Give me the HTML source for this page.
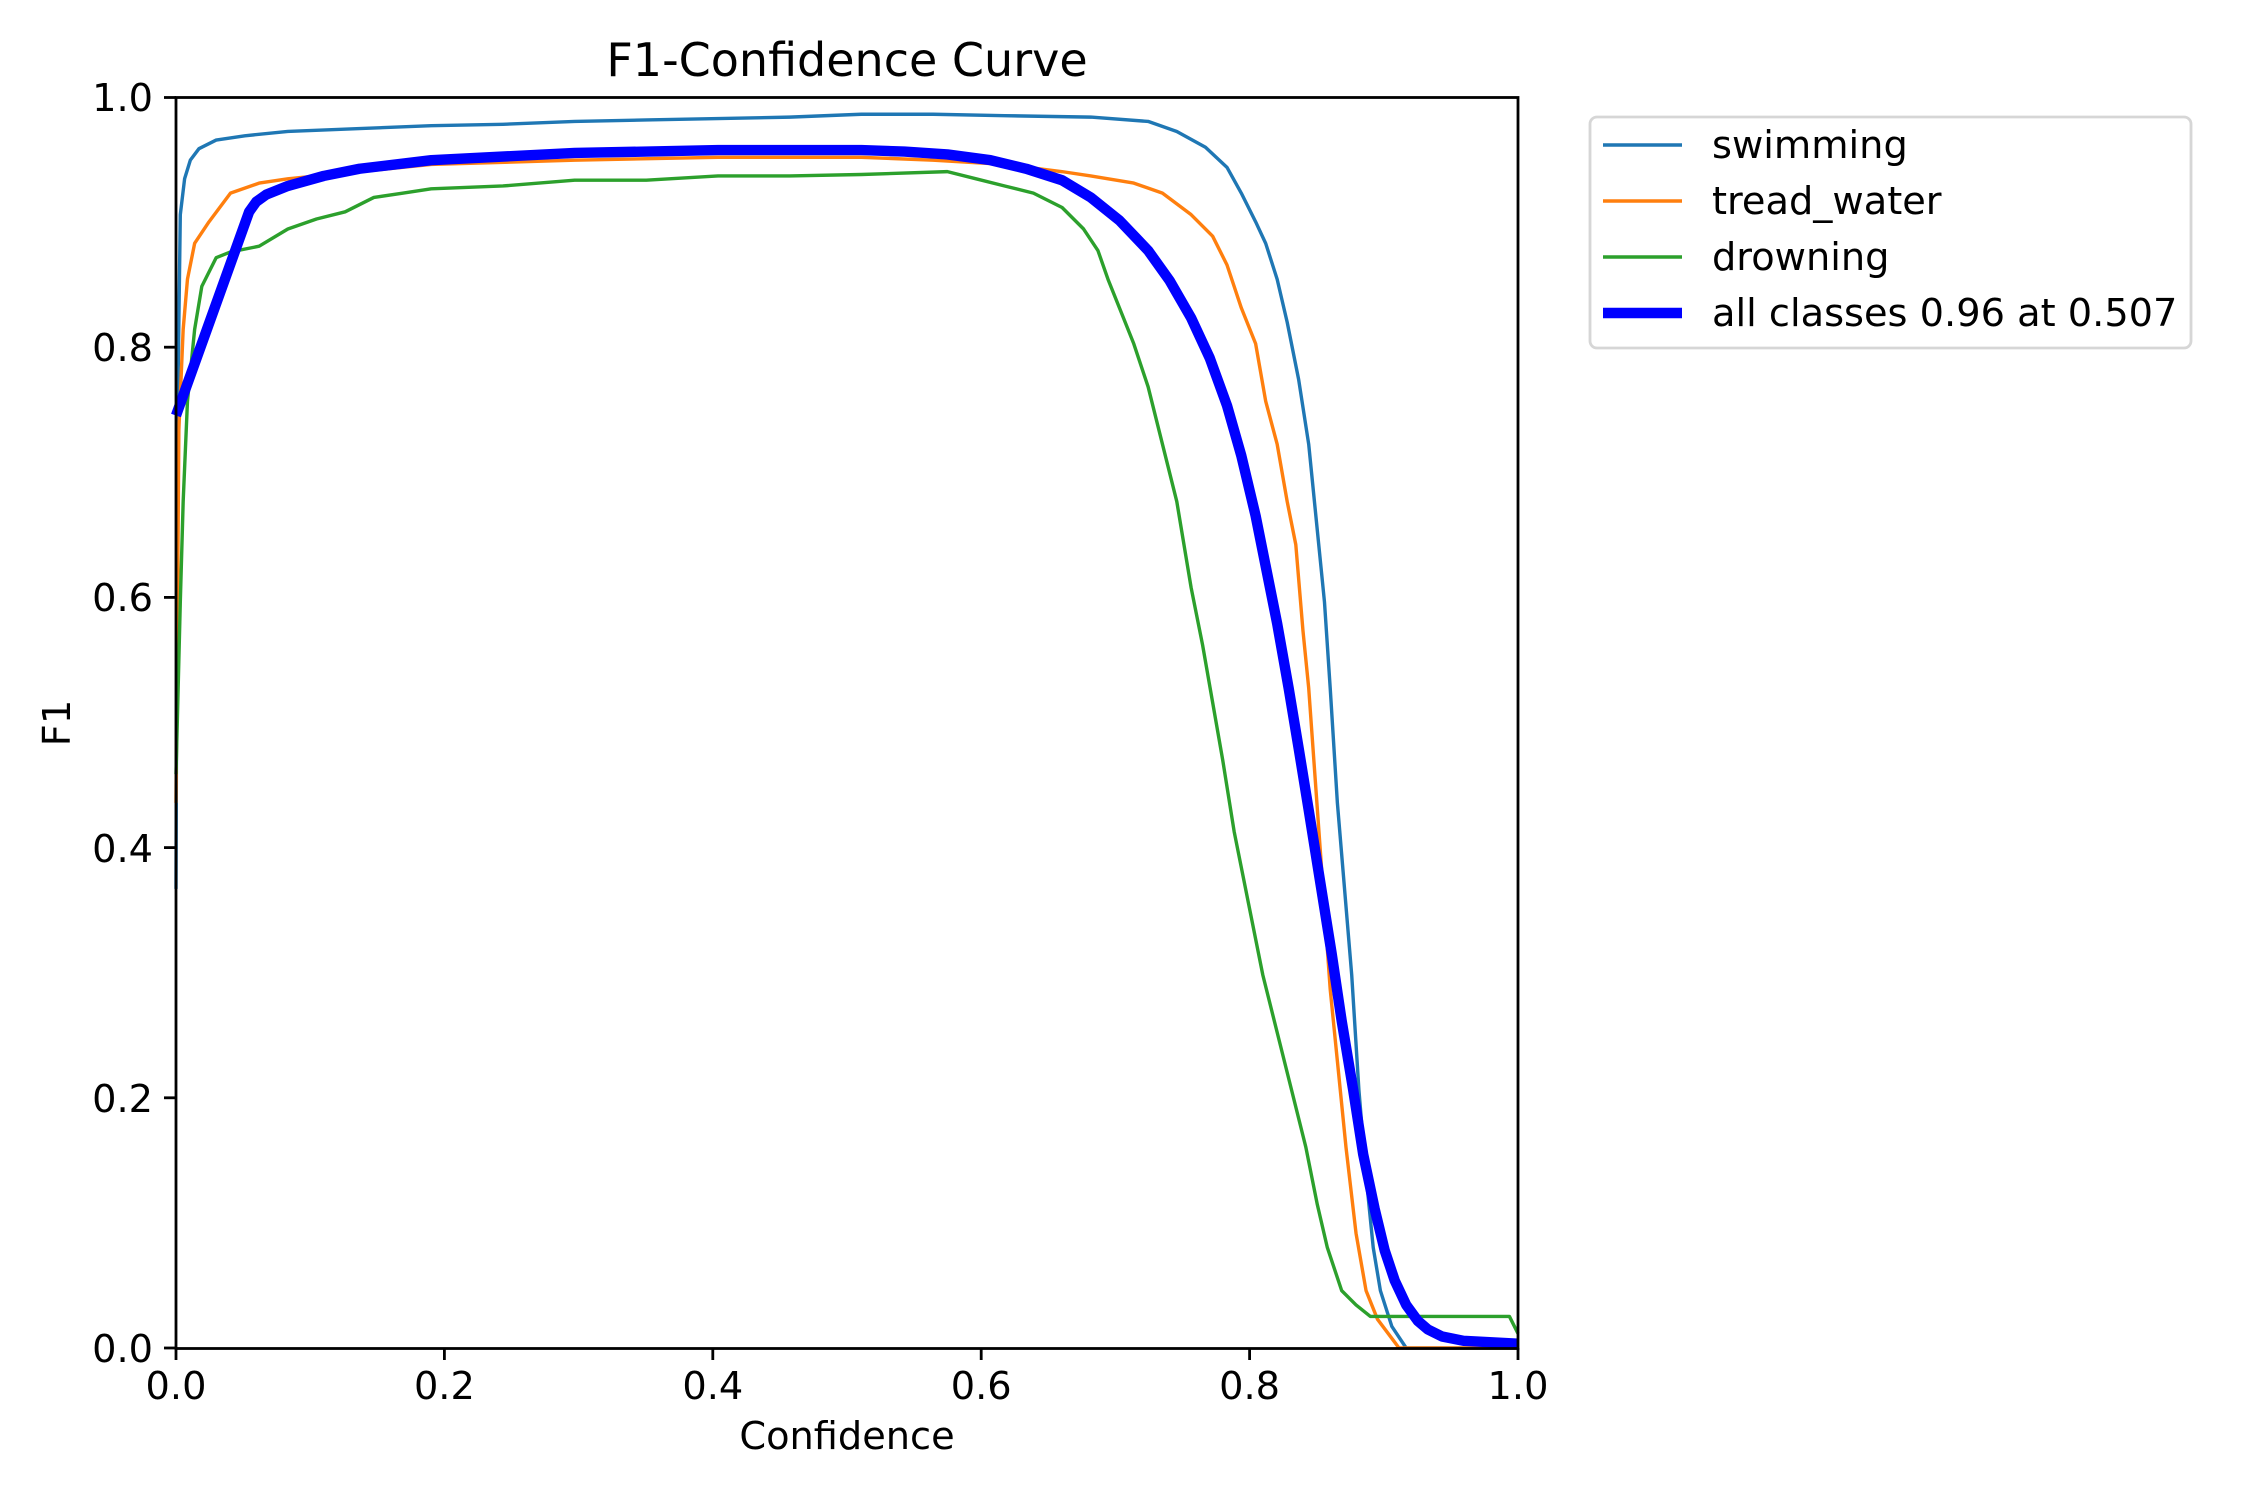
<!DOCTYPE html>
<html><head><meta charset="utf-8"><style>
html,body{margin:0;padding:0;background:#fff;}
svg{display:block;font-family:"DejaVu Sans","Liberation Sans",sans-serif;}
</style></head><body>
<svg width="2250" height="1500" viewBox="0 0 2250 1500" xmlns="http://www.w3.org/2000/svg">
<rect width="2250" height="1500" fill="#fff"/>
<g transform="translate(176 1348) scale(1.4338 1.4346) translate(-122 -940)" fill="none" stroke-linejoin="round" stroke-linecap="butt">
<polyline vector-effect="non-scaling-stroke" stroke="#1f77b4" stroke-width="3.4" points="122,620 123,300 125,150 128,125 132,112 138,104 150,98 170,95 200,92 250,90 300,88 350,87 400,85 450,84 500,83 550,82 600,80 650,80 700,81 760,82 800,85 820,92 840,103 855,117 865,135 875,155 882,170 890,195 897,225 905,265 912,310 918,370 923,420 927,480 932,560 937,620 942,680 947,760 952,820 957,870 962,900 970,925 980,940 1058,940"/>
<polyline vector-effect="non-scaling-stroke" stroke="#ff7f0e" stroke-width="3.4" points="122,560 124,300 127,230 130,195 135,170 145,155 160,135 180,128 200,125 250,120 300,115 400,112 500,110 600,110 650,112 700,115 740,120 760,123 790,128 810,135 830,150 845,165 855,185 865,215 875,240 882,280 890,310 897,350 903,380 908,440 912,480 917,550 922,620 927,690 932,740 938,800 945,860 952,900 960,920 975,940 1058,940"/>
<polyline vector-effect="non-scaling-stroke" stroke="#2ca02c" stroke-width="3.4" points="122,540 125,420 127,350 130,280 135,230 140,200 150,180 160,176 180,172 200,160 220,153 240,148 260,138 280,135 300,132 350,130 400,126 450,126 500,123 550,123 600,122 660,120 680,125 700,130 720,135 740,145 755,160 765,175 772,195 780,215 790,240 800,270 810,310 820,350 830,410 838,450 845,490 852,530 860,580 870,630 880,680 890,720 900,760 910,800 918,840 925,870 935,900 945,910 955,918 1052,918 1058,930"/>
<polyline vector-effect="non-scaling-stroke" stroke="#0000ff" stroke-width="10.4" points="122,290 173,148 178,141 185,136 200,130 225,123 250,118 300,112 400,107 500,105 600,105 630,106 660,108 690,112 715,118 740,126 760,138 780,154 800,175 815,196 830,222 843,250 855,283 865,318 875,360 883,400 890,435 898,480 905,522 912,565 920,615 928,665 935,712 943,760 950,805 958,843 965,872 972,893 980,910 988,921 995,927 1005,932 1020,935 1058,937"/>
</g>
<g stroke="#000" stroke-width="2.8" fill="none">
<rect x="176" y="97.5" width="1342" height="1251" stroke-linejoin="miter"/>
<line x1="176" y1="1348" x2="176" y2="1360"/><line x1="444.4" y1="1348" x2="444.4" y2="1360"/><line x1="712.8" y1="1348" x2="712.8" y2="1360"/><line x1="981.2" y1="1348" x2="981.2" y2="1360"/><line x1="1249.6" y1="1348" x2="1249.6" y2="1360"/><line x1="1518" y1="1348" x2="1518" y2="1360"/>
<line x1="164" y1="1348" x2="176" y2="1348"/><line x1="164" y1="1097.8" x2="176" y2="1097.8"/><line x1="164" y1="847.6" x2="176" y2="847.6"/><line x1="164" y1="597.4" x2="176" y2="597.4"/><line x1="164" y1="347.2" x2="176" y2="347.2"/><line x1="164" y1="97.5" x2="176" y2="97.5"/>
</g>
<g font-size="38.3" fill="#000">
<g text-anchor="middle">
<text x="176" y="1399">0.0</text><text x="444.4" y="1399">0.2</text><text x="712.8" y="1399">0.4</text><text x="981.2" y="1399">0.6</text><text x="1249.6" y="1399">0.8</text><text x="1518" y="1399">1.0</text>
<text x="847" y="1449">Confidence</text>
</g>
<g text-anchor="end">
<text x="153" y="1362">0.0</text><text x="153" y="1112">0.2</text><text x="153" y="862">0.4</text><text x="153" y="611">0.6</text><text x="153" y="361">0.8</text><text x="153" y="111">1.0</text>
</g>
<text transform="translate(70 723) rotate(-90)" text-anchor="middle">F1</text>
<text x="847" y="76" text-anchor="middle" font-size="46">F1-Confidence Curve</text>
</g>
<rect x="1590" y="117" width="601" height="231" rx="7" fill="#fff" fill-opacity="0.8" stroke="#d6d6d6" stroke-width="2.8"/>
<g stroke-width="3.4">
<line x1="1603" y1="145" x2="1682" y2="145" stroke="#1f77b4"/>
<line x1="1603" y1="201" x2="1682" y2="201" stroke="#ff7f0e"/>
<line x1="1603" y1="257" x2="1682" y2="257" stroke="#2ca02c"/>
<line x1="1603" y1="313" x2="1682" y2="313" stroke="#0000ff" stroke-width="10.4"/>
</g>
<g font-size="38.3" fill="#000">
<text x="1712" y="158">swimming</text>
<text x="1712" y="214">tread_water</text>
<text x="1712" y="270">drowning</text>
<text x="1712" y="326">all classes 0.96 at 0.507</text>
</g>
</svg>
</body></html>
